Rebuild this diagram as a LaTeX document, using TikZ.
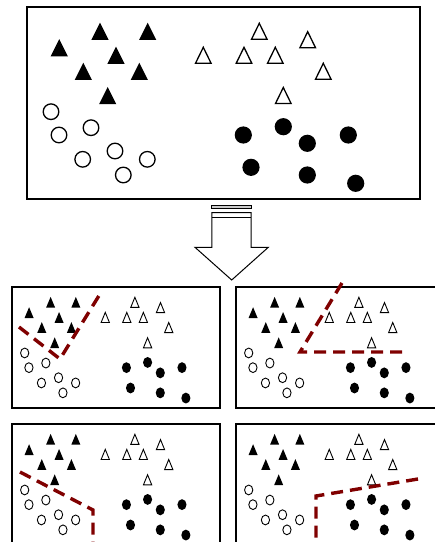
\documentclass[tikz,border=0pt]{standalone}
\usetikzlibrary{calc}
\definecolor{boundary}{RGB}{128,0,0}
\tikzset{
  frame/.style={draw=black, line width=1.4pt},
  pframe/.style={draw=black, line width=1.2pt},
  cut/.style={draw=boundary, line width=3.4pt, dash pattern=on 12pt off 7pt},
  arrowshape/.style={draw=black, line width=1pt, fill=white, line join=miter},
}
\newcommand{\drawscene}[1]{%
  \foreach \x/\y in {100/31.3,147.7/31.3,59.3/47.7,116/55.3,83.3/71.3,139.3/71.3,107.7/95.5}
    \fill[black] (\x-8.6,\y+8.6) -- (\x,\y-8.6) -- (\x+8.6,\y+8.6) -- cycle;
  \foreach \x/\y in {259.3/31.3,307.7/39.7,203.3/55.3,244/55.3,275.3/55.3,323.3/71.3,283.3/95.5}
    \draw[line width=#1, line join=miter] (\x-7.8,\y+8) -- (\x,\y-8) -- (\x+7.8,\y+8) -- cycle;
  \foreach \x/\y in {51/111.7,59/135,91/127.7,82.7/159.3,115/151,147.3/159.3,123.3/175}
    \draw[line width=#1] (\x,\y) circle [x radius=7.8, y radius=7.8];
  \foreach \x/\y in {243.3/135,283.3/126.7,307.3/143.3,348.3/135,251/167.3,307.3/175,355.7/183.3}
    \fill[black] (\x,\y) circle [x radius=8.6, y radius=8.6];
}
\begin{document}
\begin{tikzpicture}[x=1pt,y=-1pt]
\useasboundingbox (0,0) rectangle (435,542);
\clip (0,0) rectangle (435,542);
\fill[white] (0,0) rectangle (435,542);
% top box
\draw[frame] (27,7) rectangle (420,199);
\drawscene{1.3pt}
% arrow
\coordinate (atip) at (231.7,280);
\draw[line width=0.8pt, fill=black!20] (211.8,205.8) rectangle (251,208.3);
\draw[arrowshape] (211.8,212.5) -- (251,212.5) -- (251,247.3) -- (268.3,247.3) -- (atip) -- (195,247.3) -- (211.8,247.3) -- cycle;
\draw[line width=1pt] (211.8,217.5) -- (251,217.5);
% panels
\foreach \px/\py in {12/287,236/287,12/424,236/424}{
  \begin{scope}[shift={(\px,\py)}, xscale=0.529, yscale=0.630, shift={(-27,-7)}]
    \drawscene{0.9pt}
  \end{scope}
  \draw[pframe] (\px,\py) rectangle ++(208,121);
}
% decision boundaries
\draw[cut] (19,327) -- (60,359) -- (100,294);
\draw[cut] (342,283) -- (300,352) -- (406,352);
\draw[cut] (20,472) -- (93,510) -- (93,548);
\draw[cut] (418,479) -- (316,496) -- (316,548);
\end{tikzpicture}
\end{document}
